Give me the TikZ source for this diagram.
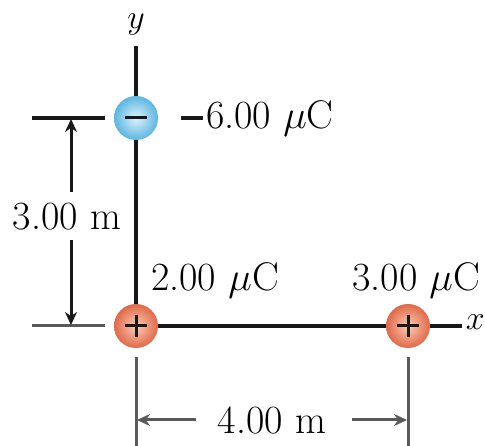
\RequirePackage{fix-cm}
\documentclass[tikz,border=0pt]{standalone}
\usepackage{tikz}
\usetikzlibrary{arrows.meta,positioning}
\definecolor{cblue}{RGB}{92,182,224}
\definecolor{lblue}{RGB}{222,242,252}
\definecolor{cred}{RGB}{226,104,72}
\definecolor{lred}{RGB}{250,205,185}
\definecolor{cline}{RGB}{25,25,25}
\definecolor{cgray}{RGB}{90,90,90}
\tikzset{
  charge/.style={
    circle, minimum size=44pt, inner sep=0pt, shading=radial
  },
  poscharge/.style={
    charge, inner color=lred, outer color=cred,
    path picture={
      \draw[cline, line width=3pt]
        ([xshift=-11pt]path picture bounding box.center) --
        ([xshift=11pt]path picture bounding box.center)
        ([yshift=-11pt]path picture bounding box.center) --
        ([yshift=11pt]path picture bounding box.center);
    }
  },
  negcharge/.style={
    charge, inner color=lblue, outer color=cblue,
    path picture={
      \draw[cline, line width=3pt]
        ([xshift=-11pt]path picture bounding box.center) --
        ([xshift=11pt]path picture bounding box.center);
    }
  },
  lbl/.style={font=\fontsize{40}{46}\selectfont, inner sep=0pt},
  axlbl/.style={font=\fontsize{34}{38}\selectfont, inner sep=0pt},
  axis/.style={cline, line width=3.2pt},
  dim/.style={cgray, line width=3pt},
  arr/.style={-{Stealth[length=13pt, width=12pt]}, line width=3pt, color=#1},
  arr/.default=cline
}

\begin{document}
\begin{tikzpicture}[x=1pt, y=-1pt]
    \useasboundingbox (0,0) rectangle (485,446);

    %% ---- axes -------------------------------------------------------
    \coordinate (ytop) at (136,46);
    \coordinate (xend) at (462,326);
    \coordinate (o)    at (136,326);
    \draw[axis] (ytop) -- (o) -- (xend);

    \node[axlbl] (ylab) at (136,24) {$y$};
    \node[axlbl, anchor=east] (xlab) at (485,322) {$x$};

    %% ---- charges ----------------------------------------------------
    \node[poscharge] (q1) at (o)       {};
    \node[negcharge] (q2) at (136,118) {};
    \node[poscharge] (q3) at (408,326) {};

    \coordinate (m1) at (181,118);
    \coordinate (m2) at (203,118);
    \draw[axis] (m1) -- (m2);
    \node[lbl, anchor=west] (lq2) at (206,118) {6.00 $\mu$C};
    \node[lbl] (lq1) at (215,280) {2.00 $\mu$C};
    \node[lbl] (lq3) at (416,280) {3.00 $\mu$C};

    %% ---- vertical dimension ----------------------------------------
    \coordinate (t1a) at (32,118);  \coordinate (t1b) at (105,118);
    \coordinate (t2a) at (32,326);  \coordinate (t2b) at (105,326);
    \draw[axis] (t1a) -- (t1b);
    \draw[dim]  (t2a) -- (t2b);

    \node[lbl] (dy) at (67,217) {3.00 m};
    \coordinate (dyu) at (71,192);  \coordinate (dyt) at (71,119);
    \coordinate (dyl) at (71,240);  \coordinate (dyb) at (71,325);
    \draw[arr] (dyu) -- (dyt);
    \draw[arr] (dyl) -- (dyb);

    %% ---- horizontal dimension --------------------------------------
    \coordinate (e1a) at (136,357); \coordinate (e1b) at (136,446);
    \coordinate (e2a) at (408,357); \coordinate (e2b) at (408,446);
    \draw[dim] (e1a) -- (e1b);
    \draw[dim] (e2a) -- (e2b);

    \node[lbl] (dx) at (272,420) {4.00 m};
    \coordinate (dxl) at (196,420); \coordinate (dxa) at (137,420);
    \coordinate (dxr) at (352,420); \coordinate (dxb) at (407,420);
    \draw[arr=cgray] (dxl) -- (dxa);
    \draw[arr=cgray] (dxr) -- (dxb);

\end{tikzpicture}
\end{document}
